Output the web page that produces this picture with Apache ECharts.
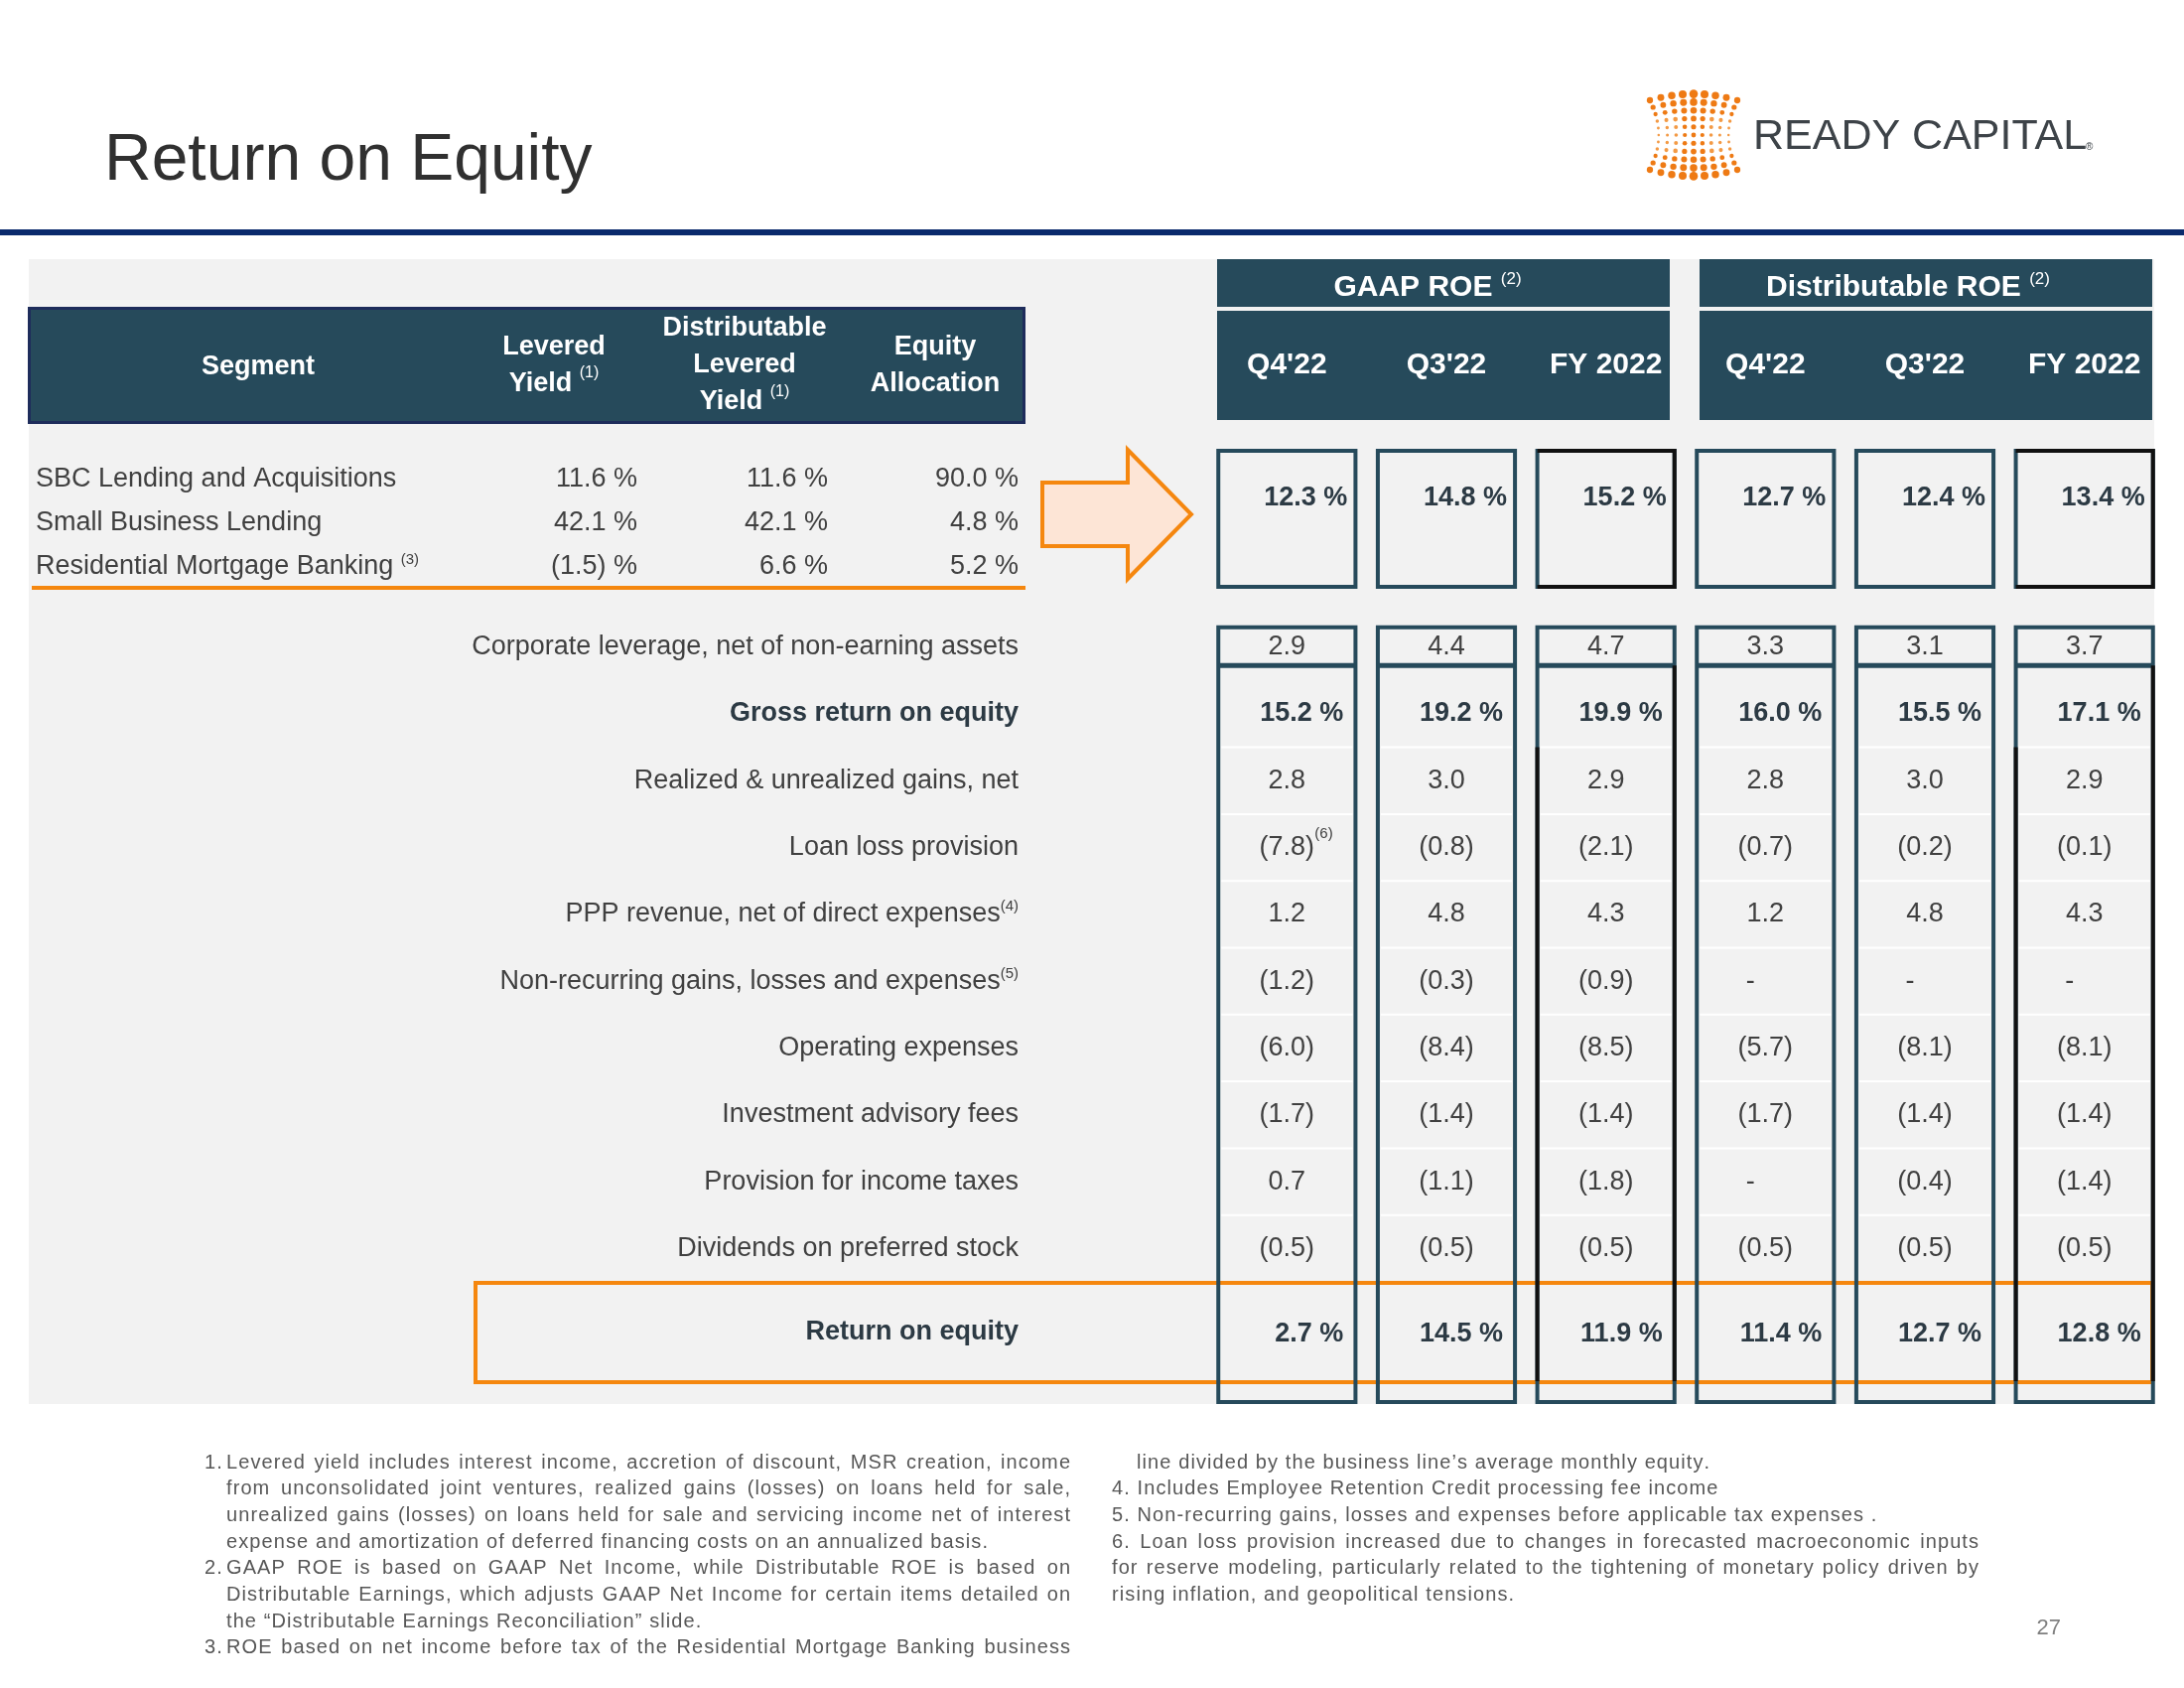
<!DOCTYPE html>
<html><head><meta charset="utf-8">
<script src="https://cdn.jsdelivr.net/npm/echarts@6/dist/echarts.min.js"></script>
<style>html,body{margin:0;padding:0;background:#fff}#chart{width:2200px;height:1700px}</style>
</head><body><div id="chart"></div>
<script>
// ================= DATA =================
const segments = ['SBC Lending and Acquisitions', 'Small Business Lending', 'Residential Mortgage Banking'];
const segmentNotes = ['', '', '(3)'];
const segColumnLabels = ['Levered\nYield', 'Distributable\nLevered\nYield', 'Equity\nAllocation'];
const segColumnNotes = ['(1)', '(1)', ''];
const leveredYield = [11.6, 42.1, -1.5];
const distLeveredYield = [11.6, 42.1, 6.6];
const equityAllocation = [90.0, 4.8, 5.2];

const roeGroups = ['GAAP ROE', 'Distributable ROE'];
const periodLabels = ["Q4'22", "Q3'22", "FY 2022", "Q4'22", "Q3'22", "FY 2022"];
const segmentROE = [12.3, 14.8, 15.2, 12.7, 12.4, 13.4];

const rowLabels = [
  'Corporate leverage, net of non-earning assets',
  'Gross return on equity',
  'Realized & unrealized gains, net',
  'Loan loss provision',
  'PPP revenue, net of direct expenses',
  'Non-recurring gains, losses and expenses',
  'Operating expenses',
  'Investment advisory fees',
  'Provision for income taxes',
  'Dividends on preferred stock'
];
const rowNotes = ['', '', '', '', '(4)', '(5)', '', '', '', ''];
const percentRows = [1];
const corporateLeverage = [2.9, 4.4, 4.7, 3.3, 3.1, 3.7];
const grossROE = [15.2, 19.2, 19.9, 16.0, 15.5, 17.1];
const realizedGains = [2.8, 3.0, 2.9, 2.8, 3.0, 2.9];
const loanLossProvision = [-7.8, -0.8, -2.1, -0.7, -0.2, -0.1];
const pppRevenue = [1.2, 4.8, 4.3, 1.2, 4.8, 4.3];
const nonRecurring = [-1.2, -0.3, -0.9, null, null, null];
const operatingExpenses = [-6.0, -8.4, -8.5, -5.7, -8.1, -8.1];
const advisoryFees = [-1.7, -1.4, -1.4, -1.7, -1.4, -1.4];
const incomeTaxes = [0.7, -1.1, -1.8, null, -0.4, -1.4];
const preferredDividends = [-0.5, -0.5, -0.5, -0.5, -0.5, -0.5];
const roeLabel = ['Return on equity'];
const returnOnEquity = [2.7, 14.5, 11.9, 11.4, 12.7, 12.8];
const cellNotes = [[0, 3, '(6)']]; // [column, row, note]

// ================= STYLE =================
const FF = '"Liberation Sans", Arial, sans-serif';
const TEAL = '#264a5b';
const ORANGE = '#f5870f';
const TXT = '#404040';
const BOLD = '#2c3a44';

const detailRows = [corporateLeverage, grossROE, realizedGains, loanLossProvision, pppRevenue,
  nonRecurring, operatingExpenses, advisoryFees, incomeTaxes, preferredDividends];
const fyCols = periodLabels.map((p, i) => p.indexOf('FY') === 0 ? i : -1).filter(i => i >= 0);

function fmt(v) { if (v === null || v === undefined) return '-'; return v < 0 ? '(' + Math.abs(v).toFixed(1) + ')' : v.toFixed(1); }
function fmtPct(v) { return fmt(v) + ' %'; }

function catAxis(gridIndex, data, extra) {
  return Object.assign({
    type: 'category', gridIndex: gridIndex, data: data, z: 5,
    axisLine: { show: false }, axisTick: { show: false }, splitLine: { show: false }
  }, extra || {});
}
function txt(x, y, text, o) {
  o = o || {};
  return {
    type: 'text', x: x, y: y, z: o.z || 6, silent: true,
    style: {
      text: text, fill: o.fill || TXT, fontSize: o.size || 27, fontWeight: o.weight || 'normal',
      fontFamily: o.ff || FF, align: o.align || 'left', verticalAlign: o.va || 'middle',
      textAlign: o.align || 'left', textVerticalAlign: o.va || 'middle', rich: o.rich
    }
  };
}

// ================= FOOTNOTES (text) =================
const footLeft = [
  { n: '1.', t: 'Levered yield includes interest income, accretion of discount, MSR creation, income', j: true },
  { t: 'from unconsolidated joint ventures, realized gains (losses) on loans held for sale,', j: true },
  { t: 'unrealized gains (losses) on loans held for sale and servicing income net of interest', j: true },
  { t: 'expense and amortization of deferred financing costs on an annualized basis.' },
  { n: '2.', t: 'GAAP ROE is based on GAAP Net Income, while Distributable ROE is based on', j: true },
  { t: 'Distributable Earnings, which adjusts GAAP Net Income for certain items detailed on', j: true },
  { t: 'the \u201cDistributable Earnings Reconciliation\u201d slide.' },
  { n: '3.', t: 'ROE based on net income before tax of the Residential Mortgage Banking business', j: true }
];
const footRight = [
  { t: 'line divided by the business line\u2019s average monthly equity.', indent: true },
  { t: '4. Includes Employee Retention Credit processing fee income' },
  { t: '5. Non-recurring gains, losses and expenses before applicable tax expenses .' },
  { t: '6. Loan loss provision increased due to changes in forecasted macroeconomic inputs', j: true },
  { t: 'for reserve modeling, particularly related to the tightening of monetary policy driven by', j: true },
  { t: 'rising inflation, and geopolitical tensions.' }
];
const FN_SIZE = 20, FN_COLOR = '#575757';
const mctx = document.createElement('canvas').getContext('2d');
mctx.font = FN_SIZE + 'px "Liberation Sans"';
const cw = ch => mctx.measureText(ch).width;
function natural(text, ls) { let w = 0; const a = [...text]; a.forEach(c => w += cw(c)); return w + ls * (a.length - 1); }
const refLine = footLeft[3].t;
const LS = Math.max(0, (767 - natural(refLine, 0)) / ([...refLine].length - 1));
function lineElems(text, x, y, target) {
  const chars = [...text];
  const spaces = chars.filter(c => c === ' ').length;
  const w = natural(text, LS);
  const extra = target && spaces ? (target - x - w) / spaces : 0;
  let cx = x; const out = [];
  chars.forEach(ch => {
    if (ch !== ' ') out.push(txt(cx, y, ch, { size: FN_SIZE, fill: FN_COLOR, z: 2 }));
    cx += cw(ch) + LS + (ch === ' ' ? extra : 0);
  });
  return out;
}
const footElems = [];
footLeft.forEach((l, i) => {
  const y = 1473 + i * 26.7;
  if (l.n) footElems.push(...lineElems(l.n, 206, y, null));
  footElems.push(...lineElems(l.t, 228, y, l.j ? 1078 : null));
});
footRight.forEach((l, i) => {
  const y = 1473 + i * 26.7;
  footElems.push(...lineElems(l.t, l.indent ? 1145 : 1120, y, l.j ? 1993 : null));
});

// ================= LOGO (decoration) =================
const logoDots = [];
for (let j = -4; j <= 4; j++) {
  for (let i = -5; i <= 5; i++) {
    const t = Math.abs(i) / 5;
    const pinch = 1 - 0.2 * (1 - t * t);
    const x = 1706 + j * 11 * pinch;
    const y = 136 + i * 7.0 + Math.sign(i) * (16 - j * j) * 0.4 * t;
    const r = Math.max(1.1, 1.5 + 1.9 * Math.pow(t, 1.5) + 0.9 * (1 - Math.abs(j) / 4) - Math.abs(j) * 0.06);
    logoDots.push({ type: 'circle', z: 2, silent: true, shape: { cx: x, cy: y, r: r }, style: { fill: (t > 0.5 || Math.abs(j) < 2) ? '#ee7a14' : '#f39a45' } });
  }
}

// ================= GRAPHIC (decoration) =================
const graphics = [
  { type: 'rect', z: 0, silent: true, shape: { x: 29, y: 261, width: 2141, height: 1153 }, style: { fill: '#f2f2f2' } },
  { type: 'rect', z: 1, silent: true, shape: { x: 0, y: 231, width: 2200, height: 6 }, style: { fill: '#0a2a6c' } },
  txt(105, 163, 'Return on Equity', { size: 66, fill: '#303030', z: 2 }),
  ...logoDots,
  txt(1766, 138, 'READY CAPITAL', { size: 43, fill: '#3d4348', z: 2 }),
  txt(2101, 148, '\u00ae', { size: 10, fill: '#3d4348', z: 2 }),
  // left header
  { type: 'rect', z: 1, silent: true, shape: { x: 29.5, y: 310.5, width: 1002, height: 115 }, style: { fill: TEAL, stroke: '#1e2c5b', lineWidth: 3 } },
  txt(260, 370, 'Segment', { size: 27, weight: 'bold', fill: '#fff', align: 'center', z: 2 }),
  { type: 'rect', z: 1, silent: true, shape: { x: 32, y: 590, width: 1001, height: 4 }, style: { fill: ORANGE } },
  // right headers
  { type: 'rect', z: 1, silent: true, shape: { x: 1226, y: 261, width: 456, height: 48 }, style: { fill: TEAL } },
  { type: 'rect', z: 1, silent: true, shape: { x: 1712, y: 261, width: 456, height: 48 }, style: { fill: TEAL } },
  { type: 'rect', z: 1, silent: true, shape: { x: 1226, y: 313, width: 456, height: 110 }, style: { fill: TEAL } },
  { type: 'rect', z: 1, silent: true, shape: { x: 1712, y: 313, width: 456, height: 110 }, style: { fill: TEAL } },
  txt(1438, 290, '{h|' + roeGroups[0] + ' }{s|(2)}', { align: 'center', z: 2, rich: {
    h: { fontSize: 30, fontWeight: 'bold', fill: '#fff', color: '#fff', fontFamily: FF, lineHeight: 34 },
    s: { fontSize: 17, fill: '#fff', color: '#fff', fontFamily: FF, lineHeight: 18, verticalAlign: 'top' } } }),
  txt(1922, 290, '{h|' + roeGroups[1] + ' }{s|(2)}', { align: 'center', z: 2, rich: {
    h: { fontSize: 30, fontWeight: 'bold', fill: '#fff', color: '#fff', fontFamily: FF, lineHeight: 34 },
    s: { fontSize: 17, fill: '#fff', color: '#fff', fontFamily: FF, lineHeight: 18, verticalAlign: 'top' } } }),
  // arrow
  { type: 'polygon', z: 1, silent: true,
    shape: { points: [[1050, 486], [1136, 486], [1136, 453], [1200, 518], [1136, 583], [1136, 550], [1050, 550]] },
    style: { fill: '#fde5d6', stroke: ORANGE, lineWidth: 4, lineJoin: 'miter' } },
  // return on equity box
  { type: 'rect', z: 1, silent: true, shape: { x: 479, y: 1292, width: 1689, height: 100 }, style: { fill: null, stroke: ORANGE, lineWidth: 4 } },
  ...footElems,
  txt(2076, 1640, '27', { size: 22, fill: '#7f7f7f', align: 'right', z: 2 })
];

// ================= SERIES BUILD =================
const segArrays = [leveredYield, distLeveredYield, equityAllocation];
const segCells = [];
segArrays.forEach((arr, c) => arr.forEach((v, r) => segCells.push({ value: [c, r], label: fmtPct(v) })));

const detailCells = [];
detailRows.forEach((arr, r) => arr.forEach((v, c) => {
  const note = cellNotes.find(n => n[0] === c && n[1] === r);
  detailCells.push({ value: [c, r], v: v, pct: percentRows.indexOf(r) >= 0, note: note ? note[2] : '' });
}));

const richLabel = {
  n: { fontSize: 27, color: TXT, fontFamily: FF, lineHeight: 30 },
  b: { fontSize: 27, color: BOLD, fontWeight: 'bold', fontFamily: FF, lineHeight: 30 },
  s: { fontSize: 15, color: TXT, fontFamily: FF, lineHeight: 16, verticalAlign: 'top' }
};

const option = {
  animation: false,
  backgroundColor: '#ffffff',
  textStyle: { fontFamily: FF },
  graphic: { elements: graphics },
  grid: [
    { left: 462, top: 461, width: 576, height: 132, containLabel: false, outerBoundsMode: 'none' },
    { left: 1216, top: 452, width: 964, height: 141, containLabel: false, outerBoundsMode: 'none' },
    { left: 1216, top: 618, width: 964, height: 673, containLabel: false, outerBoundsMode: 'none' },
    { left: 1216, top: 1292, width: 964, height: 100, containLabel: false, outerBoundsMode: 'none' }
  ],
  xAxis: [
    catAxis(0, segColumnLabels, { position: 'top', axisLabel: {
      interval: 0, margin: 93, verticalAlign: 'middle', align: 'center',
      formatter: (v, i) => v.split('\n').map((s, k, a) => '{h|' + s + (k === a.length - 1 && segColumnNotes[i] ? ' ' : '') + '}' +
        (k === a.length - 1 && segColumnNotes[i] ? '{s|' + segColumnNotes[i] + '}' : '')).join('\n'),
      rich: {
        h: { fontSize: 27, fontWeight: 'bold', color: '#fff', fontFamily: FF, lineHeight: 37 },
        s: { fontSize: 16, color: '#fff', fontFamily: FF, lineHeight: 18, verticalAlign: 'top' }
      } } }),
    catAxis(1, periodLabels, { position: 'top', axisLabel: {
      interval: 0, margin: 84, verticalAlign: 'middle', color: '#fff', fontWeight: 'bold', fontSize: 30, fontFamily: FF } }),
    catAxis(2, periodLabels, { axisLabel: { show: false } }),
    catAxis(3, periodLabels, { axisLabel: { show: false } })
  ],
  yAxis: [
    catAxis(0, segments, { inverse: true, axisLabel: {
      interval: 0, align: 'left', margin: 426,
      formatter: (v, i) => '{n|' + v + (segmentNotes[i] ? ' ' : '') + '}' + (segmentNotes[i] ? '{s|' + segmentNotes[i] + '}' : ''),
      rich: richLabel } }),
    catAxis(1, ['Segment ROE'], { axisLabel: { show: false } }),
    catAxis(2, rowLabels, { inverse: true, axisLabel: {
      interval: 0, margin: 190,
      formatter: (v, i) => (percentRows.indexOf(i) >= 0 ? '{b|' + v + '}' : '{n|' + v + '}') + (rowNotes[i] ? '{s|' + rowNotes[i] + '}' : ''),
      rich: richLabel } }),
    catAxis(3, roeLabel, { axisLabel: { margin: 190, formatter: v => '{b|' + v + '}', rich: richLabel } })
  ],
  series: [
    { // segment table values
      type: 'custom', name: 'Segment yields', xAxisIndex: 0, yAxisIndex: 0, clip: false, z: 4,
      data: segCells,
      renderItem: (params, api) => {
        const p = api.coord([api.value(0), api.value(1)]);
        return txt(p[0] + 84, p[1], segCells[params.dataIndex].label, { align: 'right' });
      }
    },
    { // segment-level ROE boxes
      type: 'custom', name: 'Segment ROE', xAxisIndex: 1, yAxisIndex: 1, clip: false, z: 4,
      data: segmentROE.map((v, i) => ({ value: [i, 0] })),
      renderItem: (params, api) => {
        const c = api.value(0);
        const p = api.coord([c, 0]);
        const sz = api.size([1, 1]);
        const w = sz[0] * 0.86, x0 = p[0] - w / 2, top = p[1] - sz[1] / 2 + 2, h = sz[1] - 4;
        const ch = [{ type: 'rect', shape: { x: x0, y: top, width: w, height: h }, style: { fill: null, stroke: TEAL, lineWidth: 4 } }];
        if (fyCols.indexOf(c) >= 0) ch.push({ type: 'polyline', shape: { points: [[x0, top], [x0 + w, top], [x0 + w, top + h], [x0, top + h]] },
          style: { fill: null, stroke: '#111', lineWidth: 4 } });
        ch.push(txt(p[0] + 61, top + 48, fmtPct(segmentROE[c]), { align: 'right', weight: 'bold', fill: BOLD }));
        return { type: 'group', children: ch };
      }
    },
    { // column frames
      type: 'custom', name: 'Column frames', xAxisIndex: 2, yAxisIndex: 2, clip: false, z: 3,
      data: periodLabels.map((p, i) => ({ value: [i, 0] })),
      renderItem: (params, api) => {
        const c = api.value(0);
        const p = api.coord([c, 0]);
        const sz = api.size([1, 1]);
        const bh = sz[1], w = sz[0] * 0.86, x0 = p[0] - w / 2, x1 = x0 + w;
        const top = p[1] - 20, sep = p[1] + 18.5, bottom = p[1] + (rowLabels.length - 0.5) * bh + 121;
        const ch = [];
        for (let r = 1; r < rowLabels.length - 1; r++) {
          const y = p[1] + (r + 0.5) * bh;
          ch.push({ type: 'line', shape: { x1: x0 + 3, y1: y, x2: x1 - 3, y2: y }, style: { stroke: '#ffffff', lineWidth: 2 } });
        }
        ch.push({ type: 'rect', shape: { x: x0, y: top, width: w, height: bottom - top }, style: { fill: null, stroke: TEAL, lineWidth: 4 } });
        ch.push({ type: 'line', shape: { x1: x0, y1: sep, x2: x1, y2: sep }, style: { stroke: TEAL, lineWidth: 5 } });
        if (fyCols.indexOf(c) >= 0) {
          const yEnd = p[1] + (rowLabels.length - 0.5) * bh + 100;
          ch.push({ type: 'line', shape: { x1: x1, y1: sep, x2: x1, y2: yEnd }, style: { stroke: '#111', lineWidth: 4 } });
          ch.push({ type: 'line', shape: { x1: x0, y1: p[1] + 1.5 * bh, x2: x0, y2: yEnd }, style: { stroke: '#111', lineWidth: 4 } });
        }
        return { type: 'group', children: ch };
      }
    },
    { // detail cell values
      type: 'custom', name: 'ROE build-up', xAxisIndex: 2, yAxisIndex: 2, clip: false, z: 4,
      data: detailCells,
      renderItem: (params, api) => {
        const cell = detailCells[params.dataIndex];
        const p = api.coord([api.value(0), api.value(1)]);
        if (cell.pct) return txt(p[0] + 57, p[1], fmtPct(cell.v), { align: 'right', weight: 'bold', fill: BOLD });
        if (cell.v === null) return txt(p[0] - 15, p[1], '-', { align: 'center' });
        const ch = [txt(p[0], p[1], fmt(cell.v), { align: 'center' })];
        if (cell.note) ch.push(txt(p[0] + 28, p[1] - 14, cell.note, { size: 15 }));
        return { type: 'group', children: ch };
      }
    },
    { // return on equity
      type: 'custom', name: 'Return on equity', xAxisIndex: 3, yAxisIndex: 3, clip: false, z: 4,
      data: returnOnEquity.map((v, i) => ({ value: [i, 0] })),
      renderItem: (params, api) => {
        const p = api.coord([api.value(0), 0]);
        return txt(p[0] + 57, p[1] + 2, fmtPct(returnOnEquity[params.dataIndex]), { align: 'right', weight: 'bold', fill: BOLD });
      }
    }
  ]
};

const chart = echarts.init(document.getElementById('chart'), null, { renderer: 'canvas', width: 2200, height: 1700 });
chart.setOption(option);
</script>
</body></html>
